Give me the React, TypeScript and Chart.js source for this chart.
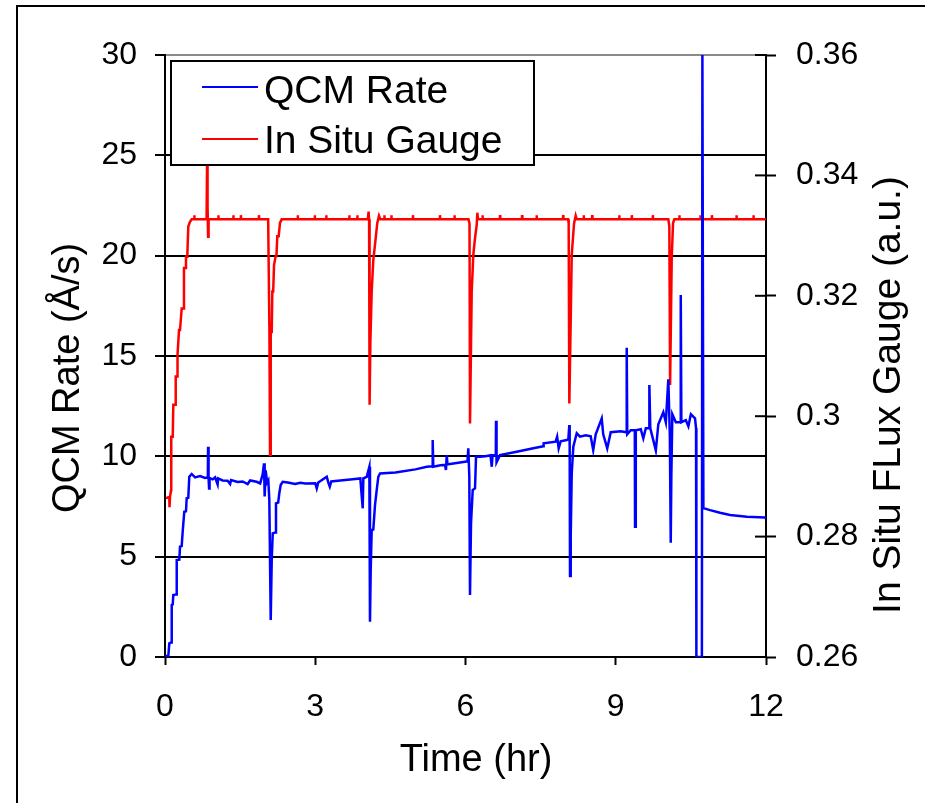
import React, { useEffect, useRef } from "react";
import { Chart, registerables } from "chart.js";

Chart.register(...registerables);

// ---- data ----
const qcmTime = [
  0.0, 0.066, 0.086, 0.12, 0.134, 0.154, 0.166, 0.22, 0.234, 0.286, 0.3, 0.333, 0.353, 0.385, 0.419, 0.433, 0.465, 0.485, 0.533,
  0.6, 0.7, 0.8, 0.855, 0.86, 0.87, 0.88, 0.89, 0.95, 1.0, 1.05, 1.06, 1.15, 1.25, 1.3, 1.32, 1.45, 1.55, 1.65, 1.7, 1.83,
  1.9, 1.95, 1.977, 1.99, 2.01, 2.04, 2.063, 2.083, 2.111, 2.131, 2.151, 2.2, 2.216, 2.26, 2.282, 2.31, 2.35, 2.45, 2.6,
  2.7, 2.8, 3.0, 3.03, 3.06, 3.23, 3.26, 3.29, 3.32, 3.5, 3.7, 3.9, 3.948, 3.96, 4.028, 4.08, 4.093, 4.107, 4.127, 4.159,
  4.193, 4.227, 4.259, 4.293, 4.6, 5.0, 5.226, 5.34, 5.345, 5.357, 5.5, 5.591, 5.61, 5.625, 5.64, 5.691, 5.99, 6.04, 6.056,
  6.076, 6.09, 6.11, 6.144, 6.19, 6.21, 6.29, 6.4, 6.5, 6.524, 6.54, 6.605, 6.609, 6.62, 6.689, 7.023, 7.354, 7.554, 7.56,
  7.8, 7.83, 7.86, 7.9, 8.021, 8.053, 8.073, 8.08, 8.087, 8.101, 8.121, 8.153, 8.221, 8.287, 8.4, 8.5, 8.55, 8.6, 8.72,
  8.75, 8.83, 8.9, 9.1, 9.21, 9.219, 9.23, 9.3, 9.38, 9.385, 9.4, 9.5, 9.55, 9.6, 9.665, 9.671, 9.69, 9.8, 9.85, 9.95,
  10.0, 10.05, 10.08, 10.098, 10.11, 10.13, 10.2, 10.29, 10.298, 10.31, 10.4, 10.45, 10.5, 10.583, 10.603, 10.61, 10.72,
  10.73, 10.75, 10.883, 11.082, 11.282, 11.615, 11.981, 12.0,
];
const qcmRate = [
  0.05, 0.05, 0.68, 0.72, 2.59, 2.62, 3.09, 3.12, 4.83, 4.85, 5.5, 5.53, 6.24, 7.24, 7.26, 7.91, 7.93, 8.98, 9.12,
  8.95, 9.02, 8.92, 8.95, 10.48, 8.9, 8.4, 8.92, 8.85, 8.95, 8.6, 8.9, 8.8, 8.78, 8.62, 8.82, 8.72, 8.75, 8.62, 8.8, 8.73,
  8.65, 9.1, 9.65, 8.0, 9.3, 8.7, 8.8, 7.82, 1.84, 4.83, 6.16, 6.2, 7.66, 7.7, 8.16, 8.57, 8.73, 8.7, 8.62,
  8.68, 8.65, 8.66, 8.4, 8.7, 8.98, 8.7, 8.49, 8.75, 8.8, 8.85, 8.9, 7.41, 8.9, 8.98, 9.48, 1.76, 4.33, 6.33, 6.35,
  7.57, 8.32, 8.98, 9.15, 9.2, 9.35, 9.48, 9.5, 10.81, 9.48, 9.55, 9.57, 9.32, 10.06, 9.6, 9.62, 9.73, 9.75, 10.4,
  9.0, 3.09, 6.66, 8.32, 8.4, 9.98, 9.98, 10.0, 10.05, 9.48, 10.05, 10.05, 11.77, 9.7, 10.06, 10.23, 10.4, 10.5, 10.65,
  10.73, 10.98, 10.4, 10.75, 10.81, 10.85, 11.56, 10.5, 4.04, 5.99, 9.15, 10.48, 11.15, 10.98, 11.05, 11.0, 10.31, 11.1, 11.89,
  11.1, 10.4, 11.2, 11.25, 11.2, 15.41, 11.1, 11.3, 11.3, 6.49, 11.3, 11.35, 10.9, 11.4, 11.4, 13.55, 11.4, 10.3, 11.6, 12.2,
  11.7, 13.84, 11.0, 5.69, 9.0, 12.1, 11.7, 11.7, 18.04, 11.7, 11.8, 11.5, 12.1, 11.89, 11.4, 0.0, 0.0,
  30.0, 7.42, 7.32, 7.19, 7.08, 6.99, 6.95, 6.9,
];

const gaugeTime = [
  0.02, 0.086, 0.09, 0.1, 0.12, 0.125, 0.154, 0.166, 0.2, 0.214, 0.246, 0.25, 0.28, 0.3, 0.333, 0.36, 0.379, 0.4, 0.419,
  0.445, 0.465, 0.499, 0.533, 0.58, 0.585, 0.59, 0.83, 0.84, 0.85, 0.86, 0.87, 1.06, 1.065, 1.07, 1.36, 1.365, 1.37, 1.51,
  1.515, 1.52, 1.87, 1.875, 1.88, 2.06, 2.085, 2.097, 2.111, 2.131, 2.143, 2.16, 2.177, 2.19, 2.21, 2.225, 2.242, 2.27,
  2.296, 2.33, 2.645, 2.65, 2.655, 2.985, 2.99, 2.995, 3.215, 3.22, 3.225, 3.675, 3.68, 3.685, 3.835, 3.84, 3.845, 4.05,
  4.065, 4.075, 4.085, 4.1, 4.127, 4.159, 4.207, 4.239, 4.273, 4.3, 4.375, 4.38, 4.385, 4.515, 4.52, 4.525, 4.945, 4.95,
  4.955, 5.485, 5.49, 5.495, 5.775, 5.78, 5.785, 6.06, 6.08, 6.09, 6.124, 6.156, 6.19, 6.224, 6.236, 6.25, 6.335, 6.34,
  6.345, 6.685, 6.69, 6.695, 7.125, 7.13, 7.135, 7.415, 7.42, 7.425, 7.945, 7.95, 7.955, 8.05, 8.06, 8.073, 8.101, 8.121,
  8.167, 8.2, 8.22, 8.355, 8.36, 8.365, 8.525, 8.53, 8.535, 9.065, 9.07, 9.075, 9.315, 9.32, 9.325, 9.735, 9.74, 9.745, 10.05,
  10.07, 10.085, 10.118, 10.144, 10.17, 10.265, 10.27, 10.275, 10.685, 10.69, 10.695, 10.915, 10.92, 10.925, 11.405, 11.41,
  11.415, 11.745, 11.75, 11.755, 12.0,
];
const gaugeValue = [
  0.2864, 0.2866, 0.2849, 0.2866, 0.2877, 0.2966, 0.2966, 0.3019, 0.3019, 0.3066, 0.3066, 0.3102, 0.3143, 0.3143, 0.3179,
  0.3179, 0.3246, 0.3246, 0.3265, 0.3265, 0.3315, 0.3323, 0.3327, 0.3327, 0.3334, 0.3327, 0.3327, 0.3421, 0.335, 0.3298,
  0.3327, 0.3327, 0.3334, 0.3327, 0.3327, 0.3334, 0.3327, 0.3327, 0.3334, 0.3327, 0.3327, 0.3334, 0.3327, 0.3327, 0.314,
  0.2936, 0.314, 0.314, 0.3207, 0.3207, 0.3251, 0.3251, 0.3266, 0.3266, 0.3299, 0.3299, 0.3321, 0.3327, 0.3327, 0.3334,
  0.3327, 0.3327, 0.3334, 0.3327, 0.3327, 0.3334, 0.3327, 0.3327, 0.3334, 0.3327, 0.3327, 0.3334, 0.3327, 0.3327, 0.334,
  0.3327, 0.3019, 0.3121, 0.3207, 0.3259, 0.3296, 0.3321, 0.3333, 0.3327, 0.3327, 0.3334, 0.3327, 0.3327, 0.3334, 0.3327,
  0.3327, 0.3334, 0.3327, 0.3327, 0.3334, 0.3327, 0.3327, 0.3334, 0.3327, 0.3327, 0.332, 0.2988, 0.3207, 0.3268, 0.3296,
  0.3318, 0.3338, 0.3327, 0.3327, 0.3334, 0.3327, 0.3327, 0.3334, 0.3327, 0.3327, 0.3334, 0.3327, 0.3327, 0.3334, 0.3327,
  0.3327, 0.3334, 0.3327, 0.3327, 0.332, 0.3021, 0.316, 0.3268, 0.332, 0.3333, 0.3327, 0.3327, 0.3334, 0.3327, 0.3327,
  0.3334, 0.3327, 0.3327, 0.3334, 0.3327, 0.3327, 0.3334, 0.3327, 0.3327, 0.3334, 0.3327, 0.3327, 0.3315, 0.3052, 0.3264,
  0.3321, 0.3327, 0.3327, 0.3334, 0.3327, 0.3327, 0.3334, 0.3327, 0.3327, 0.3334, 0.3327, 0.3327, 0.3334, 0.3327, 0.3327,
  0.3334, 0.3327, 0.3327,
];

const seriesLabels = ["QCM Rate", "In Situ Gauge"];
const seriesColors = ["#0000ff", "#ff0000"];
const gaugeTickLabels = ["0.26", "0.28", "0.3", "0.32", "0.34", "0.36"];
const xTitle = "Time (hr)";
const yTitle = "QCM Rate (Å/s)";
const y2Title = "In Situ FLux Gauge (a.u.)";

const FONT = '"Liberation Sans", Arial, sans-serif';

const framePlugin = {
  id: "frame",
  beforeDraw(chart: any) {
    const ctx = chart.ctx;
    ctx.save();
    ctx.fillStyle = "#ffffff";
    ctx.fillRect(0, 0, chart.width, chart.height);
    ctx.strokeStyle = "#000";
    ctx.lineWidth = 2;
    ctx.strokeRect(17, 6, chart.width + 50, chart.height + 50);
    ctx.restore();
  },
};

const decorPlugin = {
  id: "decor",
  afterDatasetsDraw(chart: any) {
    const ctx = chart.ctx;
    ctx.save();
    ctx.fillStyle = "#fff";
    ctx.fillRect(171, 61, 363, 104);
    ctx.strokeStyle = "#000";
    ctx.lineWidth = 2;
    ctx.strokeRect(171, 61, 363, 104);
    const rows = [
      { lineY: 87, baseY: 103 },
      { lineY: 139, baseY: 153 },
    ];
    chart.data.datasets.forEach((ds: any, i: number) => {
      ctx.strokeStyle = ds.borderColor;
      ctx.lineWidth = 2;
      ctx.beginPath();
      ctx.moveTo(202, rows[i].lineY);
      ctx.lineTo(258, rows[i].lineY);
      ctx.stroke();
      ctx.fillStyle = "#000";
      ctx.font = `39px ${FONT}`;
      ctx.textAlign = "left";
      ctx.textBaseline = "alphabetic";
      ctx.fillText(ds.label, 264, rows[i].baseY);
    });
    ctx.restore();
  },
  afterDraw(chart: any) {
    const ctx = chart.ctx;
    const area = chart.chartArea;
    ctx.save();
    const s = chart.scales.y2;
    ctx.strokeStyle = "#000";
    ctx.lineWidth = 2;
    s.ticks.forEach((t: any) => {
      const y = s.getPixelForValue(t.value);
      ctx.beginPath();
      ctx.moveTo(area.right - 11, y);
      ctx.lineTo(area.right, y);
      ctx.stroke();
    });
    ctx.fillStyle = "#000";
    ctx.textAlign = "center";
    ctx.textBaseline = "alphabetic";
    ctx.font = `38px ${FONT}`;
    ctx.fillText(xTitle, 476, 771);
    ctx.save();
    ctx.translate(79, 378);
    ctx.rotate(-Math.PI / 2);
    ctx.fillText(yTitle, 0, 0);
    ctx.restore();
    ctx.save();
    ctx.font = `39px ${FONT}`;
    ctx.translate(900, 395);
    ctx.rotate(-Math.PI / 2);
    ctx.fillText(y2Title, 0, 0);
    ctx.restore();
    ctx.restore();
  },
};

export default function App() {
  const ref = useRef<HTMLCanvasElement | null>(null);
  useEffect(() => {
    if (!ref.current) return;
    const tickFont = { family: FONT, size: 32 };
    const chart = new Chart(ref.current, {
      type: "line",
      data: {
        datasets: [
          {
            label: seriesLabels[0],
            data: qcmTime.map((t, i) => ({ x: t, y: qcmRate[i] })),
            borderColor: seriesColors[0],
            backgroundColor: seriesColors[0],
            borderWidth: 2.5,
            yAxisID: "y",
          },
          {
            label: seriesLabels[1],
            data: gaugeTime.map((t, i) => ({ x: t, y: gaugeValue[i] })),
            borderColor: seriesColors[1],
            backgroundColor: seriesColors[1],
            borderWidth: 2.5,
            yAxisID: "y2",
          },
        ],
      },
      options: {
        animation: false,
        responsive: false,
        maintainAspectRatio: false,
        layout: { padding: { top: 55, left: 0, right: 0, bottom: 0 } },
        elements: { point: { radius: 0 }, line: { tension: 0 } },
        plugins: { legend: { display: false }, tooltip: { enabled: false } },
        scales: {
          x: {
            type: "linear",
            position: "bottom",
            min: 0,
            max: 12,
            ticks: { stepSize: 3, color: "#000", font: tickFont, padding: 23, maxRotation: 0 },
            grid: { drawOnChartArea: false, tickLength: 8, tickColor: "#000", tickWidth: 2 },
            border: { display: true, color: "#000", width: 2 },
            afterFit: (s: any) => {
              s.height = 146;
            },
          },
          y: {
            type: "linear",
            position: "left",
            min: 0,
            max: 30,
            ticks: { stepSize: 5, color: "#000", font: tickFont, padding: 18 },
            grid: {
              color: (c: any) => (c.tick && c.tick.value === 30 ? "#8a8a8a" : "#000"),
              lineWidth: 2,
              tickLength: 10,
              tickColor: "#000",
              tickWidth: 2,
            },
            border: { display: true, color: "#000", width: 2 },
            afterFit: (s: any) => {
              s.width = 165;
            },
          },
          y2: {
            type: "linear",
            position: "right",
            min: 0.26,
            max: 0.36,
            ticks: {
              stepSize: 0.02,
              color: "#000",
              font: tickFont,
              padding: 20,
              callback: (_v: any, i: number) => gaugeTickLabels[i],
            },
            grid: { drawOnChartArea: false, tickLength: 10, tickColor: "#000", tickWidth: 2 },
            border: { display: true, color: "#000", width: 2 },
            afterFit: (s: any) => {
              s.width = 159;
            },
          },
        },
      },
      plugins: [framePlugin, decorPlugin],
    });
    return () => chart.destroy();
  }, []);
  return (
    <div style={{ position: "fixed", left: 0, top: 0, width: 925, height: 803, overflow: "hidden", background: "#fff" }}>
      <canvas ref={ref} width={925} height={803} style={{ display: "block" }} />
    </div>
  );
}
